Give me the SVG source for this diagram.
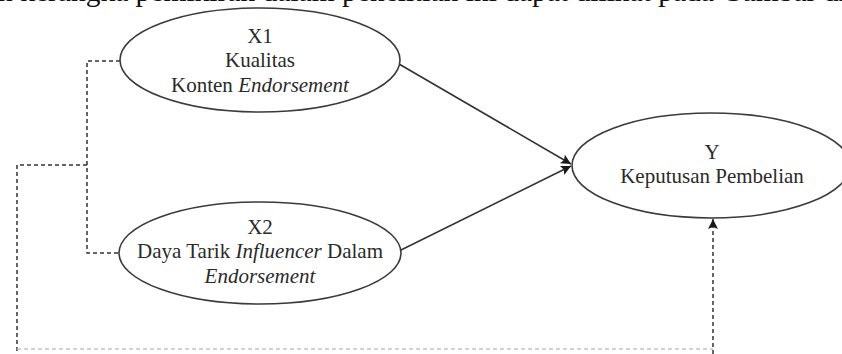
<svg xmlns="http://www.w3.org/2000/svg" width="842" height="354" viewBox="0 0 842 354">
  <defs>
    <style>
      .node { fill: #ffffff; stroke: #3a3a3a; stroke-width: 1.6; }
      .lbl { font-family: "Liberation Serif", "Times New Roman", serif; font-size: 21px; fill: #2a2a2a; text-anchor: middle; }
      .it { font-style: italic; }
      .solid { fill: none; stroke: #333; stroke-width: 1.6; }
      .dash { fill: none; stroke: #333; stroke-width: 1.5; stroke-dasharray: 4 3; }
      .body { font-family: "Liberation Serif", "Times New Roman", serif; font-size: 29.5px; fill: #111; }
    </style>
    <marker id="arr" viewBox="0 0 10 10" refX="10" refY="5" markerWidth="11" markerHeight="10" markerUnits="userSpaceOnUse" orient="auto">
      <path d="M0,0 L10,5 L0,10 L2,5 z" fill="#1a1a1a"/>
    </marker>
  </defs>
  <rect width="842" height="354" fill="#ffffff"/>
  <text class="body" x="-2" y="1">n kerangka pemikiran dalam penelitian ini dapat dilihat pada Gambar di</text>

  <g id="connectors">
    <line class="solid" x1="399" y1="64" x2="571" y2="164" marker-end="url(#arr)"/>
    <line class="solid" x1="399" y1="251" x2="571" y2="166" marker-end="url(#arr)"/>
    <polyline class="dash" points="120,61 87,61 87,253 118,253"/>
    <polyline class="dash" points="87,165 17,165 17,354"/>
    <line class="dash" x1="17" y1="349" x2="713" y2="349" style="stroke:#c4c4c4"/>
    <line class="dash" x1="713" y1="354" x2="713" y2="219" marker-end="url(#arr)"/>
  </g>

  <g id="X1">
    <ellipse class="node" cx="260" cy="60" rx="140" ry="52"/>
    <text class="lbl" x="260" y="43">X1</text>
    <text class="lbl" x="260" y="67">Kualitas</text>
    <text class="lbl" x="260" y="92">Konten <tspan class="it">Endorsement</tspan></text>
  </g>

  <g id="X2">
    <ellipse class="node" cx="260" cy="253" rx="141" ry="51"/>
    <text class="lbl" x="260" y="234">X2</text>
    <text class="lbl" x="260" y="258">Daya Tarik <tspan class="it">Influencer</tspan> Dalam</text>
    <text class="lbl it" x="260" y="283">Endorsement</text>
  </g>

  <g id="Y">
    <ellipse class="node" cx="711" cy="165.5" rx="139" ry="52.5"/>
    <text class="lbl" x="712" y="159">Y</text>
    <text class="lbl" x="712" y="183">Keputusan Pembelian</text>
  </g>
</svg>
